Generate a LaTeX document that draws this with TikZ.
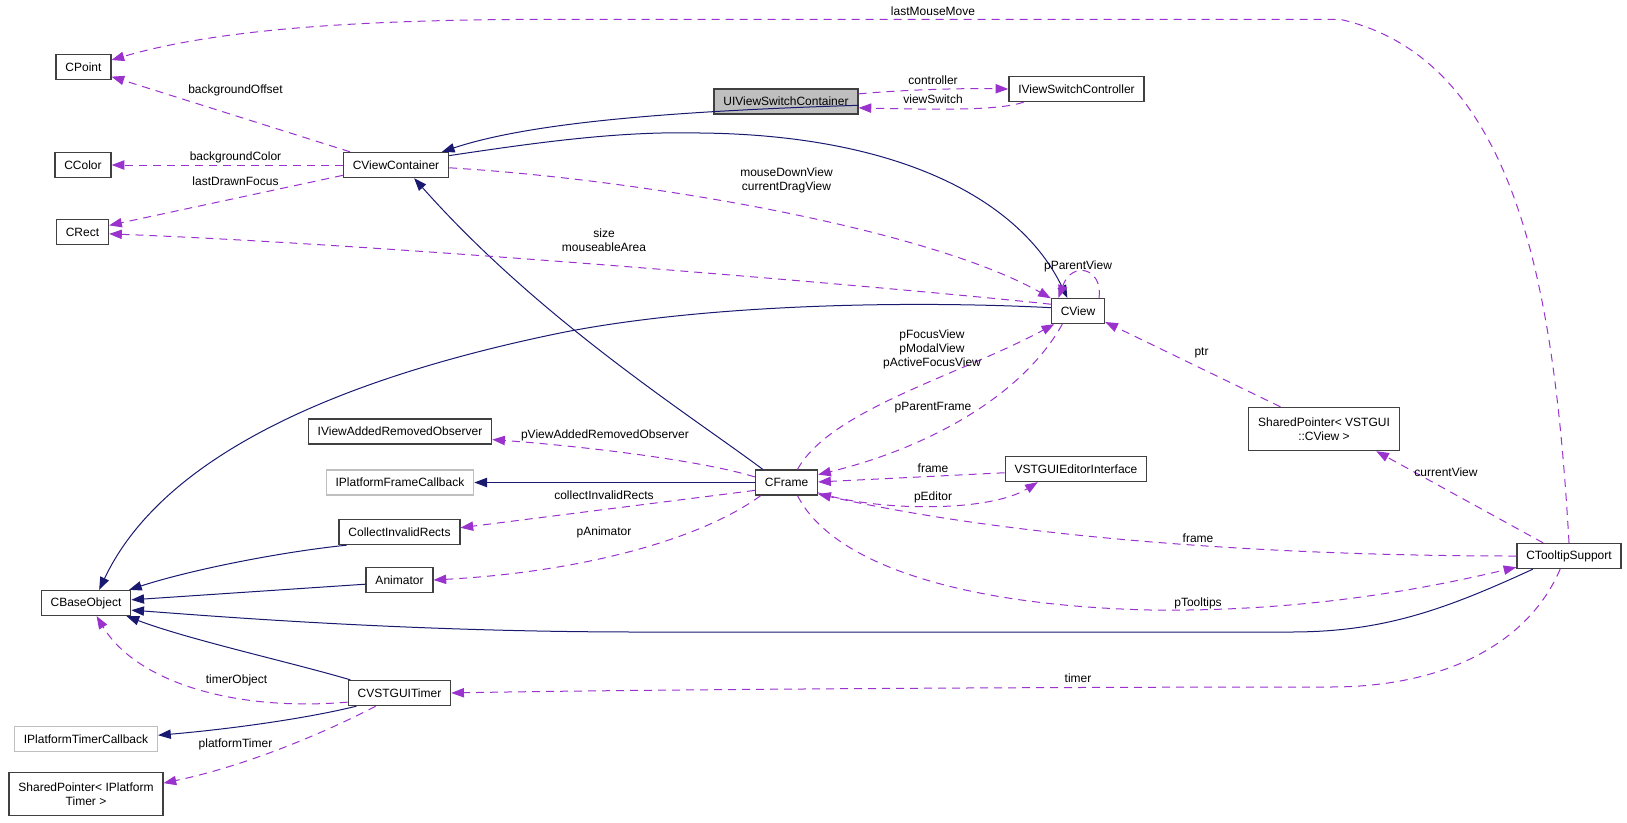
\documentclass[tikz,border=0pt]{standalone}
\usepackage{fontspec}
\setmainfont{Liberation Sans}
\usetikzlibrary{arrows.meta}
\definecolor{inhblue}{HTML}{191970}
\definecolor{usepurple}{HTML}{9A32CD}
\definecolor{boxedge}{HTML}{404040}
\definecolor{extgray}{HTML}{BFBFBF}

\begin{document}
\begin{tikzpicture}[x=0.75pt,y=-0.75pt,
  classbox/.style={draw=boxedge,line width=1pt,fill=white,align=center,minimum height=18.75pt,
    inner xsep=7pt,inner ysep=2pt,font=\fontsize{9pt}{10.5pt}\selectfont},
  extbox/.style={classbox,draw=extgray},
  curbox/.style={classbox,fill=extgray},
  derived/.style={draw=inhblue,line width=0.75pt,-{Triangle[length=9.5pt,width=7pt]}},
  member/.style={draw=usepurple,line width=0.75pt,dash pattern=on 6pt off 4.5pt,-{Triangle[length=9.5pt,width=7pt]}},
  elabel/.style={inner sep=0pt,align=center,font=\fontsize{9pt}{10.5pt}\selectfont}]
  \useasboundingbox (0,0) rectangle (1627,822);

  \node[classbox] (cpoint) at (83.5,67) {CPoint};
  \node[classbox] (ccolor) at (83,165) {CColor};
  \node[classbox] (crect) at (82.5,232) {CRect};
  \node[classbox] (cviewcontainer) at (396,165) {CViewContainer};
  \node[curbox] (uiviewswitch) at (786,101.5) {UIViewSwitchContainer};
  \node[classbox] (iviewswitchctrl) at (1076.5,89) {IViewSwitchController};
  \node[classbox] (cview) at (1078,311) {CView};
  \node[classbox] (cframe) at (786.5,482.5) {CFrame};
  \node[classbox] (vstguieditor) at (1076,469) {VSTGUIEditorInterface};
  \node[classbox] (iviewobserver) at (400,431.5) {IViewAddedRemovedObserver};
  \node[extbox] (iframecallback) at (400,482.5) {IPlatformFrameCallback};
  \node[classbox] (collectrects) at (399.5,532) {CollectInvalidRects};
  \node[classbox] (animator) at (399.5,580) {Animator};
  \node[classbox] (cbaseobject) at (86,603) {CBaseObject};
  \node[classbox] (cvstguitimer) at (399.5,693) {CVSTGUITimer};
  \node[extbox] (itimercallback) at (86,739) {IPlatformTimerCallback};
  \node[classbox,minimum height=32.25pt] (sharedtimer) at (86,794) {SharedPointer< IPlatform\\Timer >};
  \node[classbox,minimum height=32.25pt] (sharedview) at (1324,429) {SharedPointer< VSTGUI\\::CView >};
  \node[classbox] (ctooltip) at (1569,556) {CTooltipSupport};

  \draw[derived] (uiviewswitch.-3) .. controls (640,112) and (520,126) .. (cviewcontainer.16);
  \draw[derived] (cviewcontainer.10) .. controls (540,142) and (620,131) .. (700,133)
    .. controls (900,135) and (1020,200) .. (cview.129);
  \draw[derived] (cframe.151) .. controls (690,415) and (540,320) .. (cviewcontainer.-36);
  \draw[derived] (cview.173) .. controls (900,300) and (700,305) .. (560,333)
    .. controls (380,370) and (170,440) .. (cbaseobject.45);
  \draw[derived] (cframe.west) -- (iframecallback.east);
  \draw[derived] (collectrects.194) .. controls (280,552) and (190,570) .. (cbaseobject.17);
  \draw[derived] (animator.187) -- (cbaseobject.4);
  \draw[derived] (ctooltip.200) .. controls (1440,612) and (1380,632) .. (1290,632) -- (640,632)
    .. controls (400,632) and (200,615) .. (cbaseobject.-9);
  \draw[derived] (cvstguitimer.165) .. controls (290,662) and (190,640) .. (cbaseobject.-18);
  \draw[derived] (cvstguitimer.197) .. controls (300,720) and (220,730) .. (itimercallback.3);

  \draw[member] (ctooltip.north) .. controls (1555,300) and (1520,60) .. (1340,19.3) -- (560,19.3)
    .. controls (400,19.3) and (230,25) .. (cpoint.14);
  \draw[member] (cviewcontainer.164) -- (cpoint.-19);
  \draw[member] (cviewcontainer.west) -- (ccolor.east);
  \draw[member] (cviewcontainer.191) -- (crect.14);
  \draw[member] (cview.166) .. controls (900,288) and (400,245) .. (crect.-4);
  \draw[member] (cviewcontainer.-3) .. controls (650,180) and (930,230) .. (cview.155);
  \draw[member] (cview.32) .. controls (1103,268) and (1072,260) .. (cview.146);
  \draw[member] (cframe.50) .. controls (830,410) and (960,375) .. (cview.209);
  \draw[member] (cview.220) .. controls (1020,400) and (920,450) .. (cframe.14);
  \draw[member] (cframe.170) .. controls (700,460) and (580,446) .. (iviewobserver.-5);
  \draw[member] (vstguieditor.183) -- (cframe.1);
  \draw[member] (cframe.-18) .. controls (880,512) and (990,512) .. (vstguieditor.199);
  \draw[member] (cframe.194) -- (collectrects.4);
  \draw[member] (cframe.207) .. controls (700,540) and (580,572) .. (animator.east);
  \draw[member] (sharedview.153) -- (cview.-22);
  \draw[member] (ctooltip.153) -- (sharedview.-23);
  \draw[member] (ctooltip.west) .. controls (1250,556) and (1000,535) .. (cframe.-20);
  \draw[member] (cframe.-50) .. controls (830,560) and (950,605) .. (1150,610)
    .. controls (1300,612) and (1420,590) .. (ctooltip.192);
  \draw[member] (ctooltip.236) .. controls (1530,640) and (1450,687) .. (1330,687)
    .. controls (1000,687) and (600,690) .. (cvstguitimer.east);
  \draw[member] (cvstguitimer.190) .. controls (230,712) and (135,680) .. (cbaseobject.-51);
  \draw[member] (cvstguitimer.209) .. controls (330,730) and (250,765) .. (sharedtimer.8);
  \draw[member] (uiviewswitch.6) .. controls (900,90) and (960,88) .. (iviewswitchctrl.west);
  \draw[member] (iviewswitchctrl.194) .. controls (1000,110) and (950,110) .. (uiviewswitch.-5);

  \node[elabel] (lmousemove) at (933,11.4) {lastMouseMove};
  \node[elabel] (lbgoffset) at (235.5,90) {backgroundOffset};
  \node[elabel] (lbgcolor) at (235.5,157) {backgroundColor};
  \node[elabel] (ldrawnfocus) at (235.5,181.6) {lastDrawnFocus};
  \node[elabel] (lcontroller) at (933,80) {controller};
  \node[elabel] (lviewswitch) at (933,99.6) {viewSwitch};
  \node[elabel] (lmousedown) at (786.5,180.5) {mouseDownView\\currentDragView};
  \node[elabel] (lsize) at (604,240.5) {size\\mouseableArea};
  \node[elabel] (lparentview) at (1078,266.7) {pParentView};
  \node[elabel] (lfocusview) at (932,349.5) {pFocusView\\pModalView\\pActiveFocusView};
  \node[elabel] (lparentframe) at (933,408) {pParentFrame};
  \node[elabel] (lobserver) at (605,435) {pViewAddedRemovedObserver};
  \node[elabel] (lframeed) at (933,468) {frame};
  \node[elabel] (leditor) at (933,497) {pEditor};
  \node[elabel] (lcollect) at (604,495) {collectInvalidRects};
  \node[elabel] (lanimator) at (604,532) {pAnimator};
  \node[elabel] (lptr) at (1201.5,353) {ptr};
  \node[elabel] (lcurrentview) at (1446,472) {currentView};
  \node[elabel] (lframetip) at (1198,538.5) {frame};
  \node[elabel] (ltooltips) at (1198,603) {pTooltips};
  \node[elabel] (ltimerobject) at (236.5,680.7) {timerObject};
  \node[elabel] (ltimer) at (1078,678.6) {timer};
  \node[elabel] (lplatformtimer) at (235.5,744) {platformTimer};
\end{tikzpicture}
\end{document}
